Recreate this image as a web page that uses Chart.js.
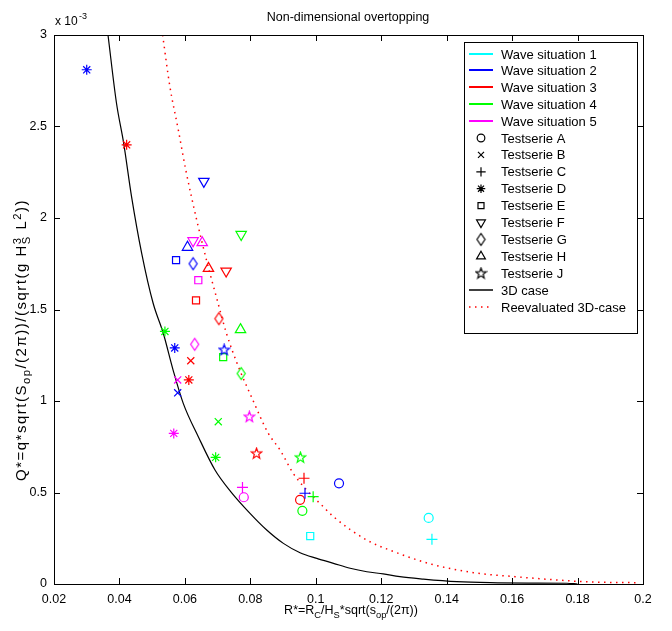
<!DOCTYPE html>
<html>
<head>
<meta charset="utf-8">
<script src="https://cdn.jsdelivr.net/npm/chart.js@4.4.1/dist/chart.umd.min.js"></script>
<style>
  html, body { margin: 0; padding: 0; background: #fff; }
  #wrap { width: 672px; height: 631px; }
</style>
</head>
<body>
<div id="wrap"><canvas id="chart" width="672" height="631"></canvas></div>
<script>
// Q* values are given in units of 1e-3 (the axis shows "x 10^-3")
let waveNames = ["Wave situation 1", "Wave situation 2", "Wave situation 3", "Wave situation 4", "Wave situation 5"];
let waveColors = ["#00ffff", "#0000ff", "#ff0000", "#00ff00", "#ff00ff"];
let serieLetters = ["A", "B", "C", "D", "E", "F", "G", "H", "J"];

let wave1R = [0.1345, 0.1355, 0.0983];
let wave1Q = [0.361, 0.244, 0.262];
let wave1S = ["A", "C", "E"];

let wave2R = [0.1071, 0.0578, 0.0967, 0.0300, 0.0569, 0.0573, 0.0658, 0.0625, 0.0608, 0.0720];
let wave2Q = [0.55, 1.045, 0.496, 2.81, 1.29, 1.77, 2.20, 1.75, 1.84, 1.28];
let wave2S = ["A", "B", "C", "D", "D", "E", "F", "G", "H", "J"];

let wave3R = [0.0952, 0.0618, 0.0964, 0.0422, 0.0612, 0.0634, 0.0726, 0.0704, 0.0672, 0.0819];
let wave3Q = [0.46, 1.22, 0.578, 2.40, 1.115, 1.55, 1.71, 1.45, 1.725, 0.714];
let wave3S = ["A", "B", "C", "D", "D", "E", "F", "G", "H", "J"];

let wave4R = [0.0959, 0.0702, 0.0992, 0.0539, 0.0694, 0.0717, 0.0772, 0.0772, 0.0770, 0.0953];
let wave4Q = [0.40, 0.887, 0.477, 1.38, 0.692, 1.24, 1.91, 1.15, 1.39, 0.692];
let wave4S = ["A", "B", "C", "D", "D", "E", "F", "G", "H", "J"];

let wave5R = [0.0780, 0.0578, 0.0776, 0.0566, 0.0641, 0.0625, 0.0630, 0.0653, 0.0797];
let wave5Q = [0.474, 1.115, 0.528, 0.823, 1.66, 1.876, 1.31, 1.865, 0.914];
let wave5S = ["A", "B", "C", "D", "E", "F", "G", "H", "J"];

let case3dR = [0.0365, 0.0391, 0.0413, 0.0437, 0.0468, 0.0503, 0.0534, 0.0564, 0.0595, 0.0641, 0.0692, 0.0740, 0.0799, 0.0850, 0.0901, 0.0952, 0.1003, 0.1054, 0.1105, 0.1156, 0.1206, 0.1257, 0.1329, 0.1431, 0.1533, 0.1650, 0.1767, 0.1800];
let case3dQ = [3.0, 2.627, 2.408, 2.117, 1.807, 1.534, 1.370, 1.169, 0.987, 0.805, 0.623, 0.505, 0.386, 0.295, 0.222, 0.171, 0.140, 0.113, 0.086, 0.067, 0.055, 0.040, 0.027, 0.013, 0.007, 0.005, 0.004, 0.0];

let reevalR = [0.0532, 0.0554, 0.0580, 0.0603, 0.0636, 0.0666, 0.0699, 0.0727, 0.0763, 0.0804, 0.0855, 0.0891, 0.0931, 0.0972, 0.1023, 0.1054, 0.1156, 0.1240, 0.1354, 0.1482, 0.1609, 0.1737, 0.1840, 0.1990];
let reevalQ = [3.0, 2.72, 2.48, 2.26, 1.99, 1.77, 1.55, 1.37, 1.19, 1.02, 0.823, 0.732, 0.605, 0.514, 0.422, 0.368, 0.240, 0.176, 0.108, 0.062, 0.040, 0.022, 0.011, 0.007];

let xTicks = [0.02, 0.04, 0.06, 0.08, 0.1, 0.12, 0.14, 0.16, 0.18, 0.2];
let xTickLabels = ["0.02", "0.04", "0.06", "0.08", "0.1", "0.12", "0.14", "0.16", "0.18", "0.2"];
let yTicks = [0, 0.5, 1, 1.5, 2, 2.5, 3];
let yTickLabels = ["0", "0.5", "1", "1.5", "2", "2.5", "3"];

let waveR = [wave1R, wave2R, wave3R, wave4R, wave5R];
let waveQ = [wave1Q, wave2Q, wave3Q, wave4Q, wave5Q];
let waveS = [wave1S, wave2S, wave3S, wave4S, wave5S];

const FONT = "'Liberation Sans', Arial, Helvetica, sans-serif";

// custom marker canvases (diamond and pentagram like matlab)
let markerCache = {};
function makeDiamond(color) {
  let c = document.createElement("canvas");
  c.width = 11; c.height = 15;
  let g = c.getContext("2d");
  g.strokeStyle = color; g.lineWidth = 1.2;
  g.beginPath();
  g.moveTo(5.5, 1.5); g.lineTo(9.5, 7.5); g.lineTo(5.5, 13.5); g.lineTo(1.5, 7.5);
  g.closePath(); g.stroke();
  return c;
}
function makePentagram(color) {
  let c = document.createElement("canvas");
  c.width = 13; c.height = 13;
  let g = c.getContext("2d");
  g.strokeStyle = color; g.lineWidth = 1.2;
  g.beginPath();
  for (let k = 0; k < 10; k++) {
    let r = k % 2 === 0 ? 5.5 : 2.3;
    let a = -Math.PI / 2 + k * Math.PI / 5;
    let px = 6.5 + r * Math.cos(a), py = 6.8 + r * Math.sin(a);
    if (k === 0) g.moveTo(px, py); else g.lineTo(px, py);
  }
  g.closePath(); g.stroke();
  return c;
}
function markerStyle(letter, color) {
  if (letter === "A") return "circle";
  if (letter === "B") return "crossRot";
  if (letter === "C") return "cross";
  if (letter === "D") return "star";
  if (letter === "E") return "rect";
  if (letter === "F" || letter === "H") return "triangle";
  let key = letter + color;
  if (!markerCache[key]) {
    markerCache[key] = letter === "G" ? makeDiamond(color) : makePentagram(color);
  }
  return markerCache[key];
}
function markerRadius(letter) {
  if (letter === "A") return 4.5;
  if (letter === "C") return 5.5;
  if (letter === "F" || letter === "H") return 6;
  return 5;
}

let datasets = [];
for (let w = 0; w < 5; w++) {
  let pts = [];
  for (let i = 0; i < waveR[w].length; i++) pts.push({ x: waveR[w][i], y: waveQ[w][i] });
  let letters = waveS[w];
  datasets.push({
    label: waveNames[w],
    data: pts,
    showLine: false,
    borderColor: waveColors[w],
    backgroundColor: "rgba(0,0,0,0)",
    borderWidth: 1.2,
    pointStyle: letters.map(s => markerStyle(s, waveColors[w])),
    pointRadius: letters.map(s => markerRadius(s)),
    pointRotation: letters.map(s => (s === "F" ? 180 : 0)),
  });
}
datasets.push({
  label: "3D case",
  data: case3dR.map((r, i) => ({ x: r, y: case3dQ[i] })),
  showLine: true,
  borderColor: "#000",
  borderWidth: 1.2,
  pointRadius: 0,
  cubicInterpolationMode: "monotone",
});
datasets.push({
  label: "Reevaluated 3D-case",
  data: reevalR.map((r, i) => ({ x: r, y: reevalQ[i] })),
  showLine: true,
  borderColor: "#ff0000",
  borderWidth: 1.5,
  borderDash: [1.5, 4.5],
  pointRadius: 0,
  cubicInterpolationMode: "monotone",
});

// draws text with sub/superscripts; parts: [text, mode] 0 normal, 1 sub, 2 sup, 3 sup|sub stacked
function richWidth(g, parts, size) {
  let w = 0;
  for (let p of parts) {
    if (p[1] === 0) { g.font = size + "px " + FONT; w += g.measureText(p[0]).width; }
    else if (p[1] === 3) {
      g.font = (size * 0.75) + "px " + FONT;
      let [a, b] = p[0].split("|");
      w += Math.max(g.measureText(a).width, g.measureText(b).width);
    } else { g.font = (size * 0.75) + "px " + FONT; w += g.measureText(p[0]).width; }
  }
  return w;
}
function drawRich(g, parts, x, y, size) {
  let cx = x - richWidth(g, parts, size) / 2;
  g.textAlign = "left";
  g.textBaseline = "alphabetic";
  for (let p of parts) {
    if (p[1] === 0) {
      g.font = size + "px " + FONT; g.fillText(p[0], cx, y); cx += g.measureText(p[0]).width;
    } else if (p[1] === 1) {
      g.font = (size * 0.75) + "px " + FONT; g.fillText(p[0], cx, y + 4); cx += g.measureText(p[0]).width;
    } else if (p[1] === 2) {
      g.font = (size * 0.75) + "px " + FONT; g.fillText(p[0], cx, y - 5); cx += g.measureText(p[0]).width;
    } else {
      g.font = (size * 0.75) + "px " + FONT;
      let [a, b] = p[0].split("|");
      g.fillText(a, cx, y - 5); g.fillText(b, cx, y + 4);
      cx += Math.max(g.measureText(a).width, g.measureText(b).width);
    }
  }
}

const decorPlugin = {
  id: "decor",
  afterDatasetsDraw(chart) {
    let g = chart.ctx;
    let a = chart.chartArea;
    let xs = chart.scales.x, ys = chart.scales.y;
    g.save();
    g.strokeStyle = "#000";
    g.lineWidth = 1;
    g.strokeRect(Math.round(a.left) + 0.5, Math.round(a.top) + 0.5, Math.round(a.right - a.left), Math.round(a.bottom - a.top));
    g.beginPath();
    for (let v of xTicks) {
      let px = Math.round(xs.getPixelForValue(v)) + 0.5;
      g.moveTo(px, a.bottom); g.lineTo(px, a.bottom - 6);
      g.moveTo(px, a.top); g.lineTo(px, a.top + 6);
    }
    for (let v of yTicks) {
      let py = Math.round(ys.getPixelForValue(v)) + 0.5;
      g.moveTo(a.left, py); g.lineTo(a.left + 6, py);
      g.moveTo(a.right, py); g.lineTo(a.right - 6, py);
    }
    g.stroke();
    g.restore();
  },
  afterDraw(chart) {
    let g = chart.ctx;
    g.save();
    g.fillStyle = "#000";
    // title
    g.font = "12.5px " + FONT;
    g.textAlign = "center";
    g.textBaseline = "alphabetic";
    g.fillText("Non-dimensional overtopping", 348, 21);
    // multiplier
    g.textAlign = "left";
    g.font = "12px " + FONT;
    g.fillText("x 10", 55, 25);
    g.font = "9px " + FONT;
    g.fillText("-3", 79, 19);
    // x label
    drawRich(g, [["R*=R", 0], ["C", 1], ["/H", 0], ["S", 1], ["*sqrt(s", 0], ["op", 1], ["/(2\u03c0))", 0]], 351, 614, 12.5);
    // y label (rotated, matlab spreads it wider)
    g.translate(26, 340);
    g.rotate(-Math.PI / 2);
    g.fillStyle = "#000";
    g.letterSpacing = "1.5px";
    drawRich(g, [["Q*=q*sqrt(S", 0], ["op", 1], ["/(2\u03c0))/(sqrt(g H", 0], ["3|S", 3], [" L", 0], ["2", 2], ["))", 0]], 0, 0, 15);
    g.letterSpacing = "0px";
    g.restore();

    // legend box
    g.save();
    let lx = 464, ly = 42, lw = 173, lh = 291;
    g.fillStyle = "#fff";
    g.fillRect(lx, ly, lw, lh);
    g.strokeStyle = "#000";
    g.lineWidth = 1;
    g.strokeRect(lx + 0.5, ly + 0.5, lw, lh);
    let rowH = 16.9, y0 = 53.5;
    g.font = "13px " + FONT;
    g.textAlign = "left";
    g.textBaseline = "middle";
    for (let i = 0; i < 5; i++) {
      let y = Math.round(y0 + i * rowH);
      g.strokeStyle = waveColors[i];
      g.lineWidth = 2;
      g.beginPath(); g.moveTo(469, y); g.lineTo(493, y); g.stroke();
      g.fillStyle = "#000";
      g.fillText(waveNames[i], 501, y + 1);
    }
    g.lineWidth = 1.2;
    for (let i = 0; i < serieLetters.length; i++) {
      let s = serieLetters[i];
      let y = y0 + (i + 5) * rowH;
      let st = markerStyle(s, "#000");
      g.strokeStyle = "#000";
      g.fillStyle = "rgba(0,0,0,0)";
      Chart.helpers.drawPoint(g, { pointStyle: st, radius: markerRadius(s) * 0.85, rotation: s === "F" ? 180 : 0, borderWidth: 1.2 }, 481, y);
      g.fillStyle = "#000";
      g.fillText("Testserie " + s, 501, y + 1);
    }
    let yl = Math.round(y0 + 14 * rowH);
    g.strokeStyle = "#000";
    g.lineWidth = 1.5;
    g.beginPath(); g.moveTo(469, yl); g.lineTo(493, yl); g.stroke();
    g.fillText("3D case", 501, yl + 1);
    let yr = Math.round(y0 + 15 * rowH);
    g.strokeStyle = "#ff0000";
    g.lineWidth = 1.5;
    g.setLineDash([1.5, 4.5]);
    g.beginPath(); g.moveTo(469, yr); g.lineTo(493, yr); g.stroke();
    g.setLineDash([]);
    g.fillText("Reevaluated 3D-case", 501, yr + 1);
    g.restore();
  },
};

new Chart(document.getElementById("chart"), {
  type: "scatter",
  data: { datasets: datasets },
  options: {
    responsive: false,
    animation: false,
    events: [],
    layout: { padding: { top: 35, right: 29, left: 0, bottom: 0 } },
    plugins: {
      legend: { display: false },
      title: { display: false },
      tooltip: { enabled: false },
    },
    scales: {
      x: {
        type: "linear",
        min: 0.02,
        max: 0.2,
        grid: { display: false, drawTicks: false },
        border: { display: false },
        afterBuildTicks: (scale) => { scale.ticks = xTicks.map(v => ({ value: v })); },
        afterFit: (scale) => { scale.height = 47; },
        ticks: {
          padding: 8,
          maxRotation: 0,
          color: "#000",
          font: { family: FONT, size: 12.5 },
          callback: (v, i) => xTickLabels[i],
        },
      },
      y: {
        type: "linear",
        min: 0,
        max: 3,
        grid: { display: false, drawTicks: false },
        border: { display: false },
        afterBuildTicks: (scale) => { scale.ticks = yTicks.map(v => ({ value: v })); },
        afterFit: (scale) => { scale.width = 54; },
        ticks: {
          padding: 7,
          color: "#000",
          font: { family: FONT, size: 12.5 },
          callback: (v, i) => yTickLabels[i],
        },
      },
    },
  },
  plugins: [decorPlugin],
});
</script>
</body>
</html>
